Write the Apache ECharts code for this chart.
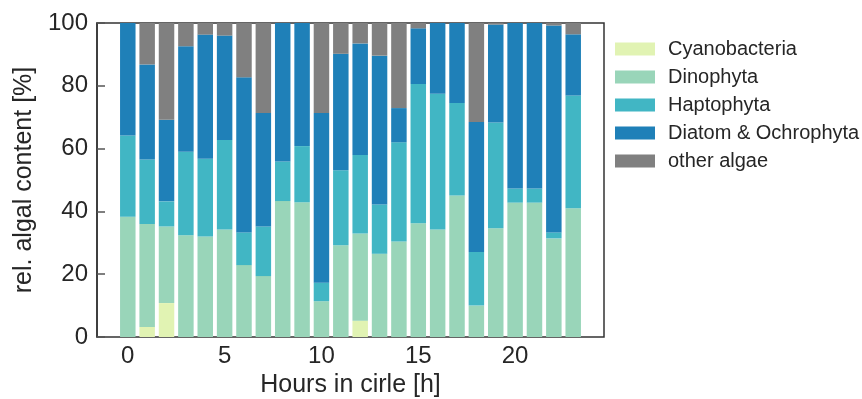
<!DOCTYPE html>
<html>
<head>
<meta charset="utf-8">
<script src="https://cdn.jsdelivr.net/npm/echarts@6/dist/echarts.min.js"></script>
<style>
  html, body { margin: 0; padding: 0; background: #fff; }
  #chart { width: 862px; height: 399px; }
</style>
</head>
<body>
<div id="chart"></div>
<script>
// hours 0..23
const hours = ['0','1','2','3','4','5','6','7','8','9','10','11','12','13','14','15','16','17','18','19','20','21','22','23']
const seriesNames = ['Cyanobacteria', 'Dinophyta', 'Haptophyta', 'Diatom & Ochrophyta', 'other algae']
const cyano  = [0, 3.2, 10.8, 0, 0, 0, 0, 0, 0, 0, 0, 0, 5.2, 0, 0, 0, 0, 0, 0, 0, 0, 0, 0, 0]
const dino   = [38.3, 32.8, 24.4, 32.4, 32.0, 34.2, 22.9, 19.4, 43.3, 42.9, 11.4, 29.2, 27.8, 26.5, 30.4, 36.2, 34.2, 45.1, 10.0, 34.6, 42.8, 42.8, 31.4, 41.0]
const hapto  = [25.9, 20.5, 8.0, 26.6, 24.8, 28.5, 10.4, 15.8, 12.6, 17.9, 5.9, 23.9, 25.0, 15.7, 31.6, 44.4, 43.3, 29.4, 17.1, 33.7, 4.5, 4.5, 1.9, 35.9]
const diatom = [35.8, 30.3, 26.0, 33.6, 39.5, 33.3, 49.4, 36.1, 44.1, 39.2, 54.0, 37.1, 35.5, 47.4, 10.9, 17.7, 22.5, 25.5, 41.4, 31.2, 52.7, 52.7, 65.9, 19.5]
const other  = [0, 13.2, 30.8, 7.4, 3.7, 4.0, 17.3, 28.7, 0, 0, 28.7, 9.8, 6.5, 10.4, 27.1, 1.7, 0, 0, 31.5, 0.5, 0, 0, 0.8, 3.6]
const xTicks = [0, 5, 10, 15, 20]
const colors = ['#e1f3b3', '#99d5b9', '#41b6c4', '#1f80b8', '#808080']

const chart = echarts.init(document.getElementById('chart'))
const values = [cyano, dino, hapto, diatom, other]
const textColor = '#262626'

// frame (matplotlib-like x limits with 5% margin)
const W = 862
const frameLeft = 97, frameRight = 604
const xMin = -1.59, xMax = 24.59
const unit = (frameRight - frameLeft) / (xMax - xMin)
// bars grid: category bands aligned with the frame's value axis
const barsLeft = frameLeft + (-0.5 - xMin) * unit
const barsRight = frameLeft + (hours.length - 0.5 - xMin) * unit

const option = {
  animation: false,
  color: colors,
  textStyle: { fontFamily: 'Liberation Sans, Arial, sans-serif' },
  grid: [
    {
      left: frameLeft,
      right: W - frameRight,
      top: 23,
      bottom: 62,
      outerBoundsMode: 'none',
      show: true,
      borderColor: '#333',
      borderWidth: 1.5
    },
    {
      left: barsLeft,
      right: W - barsRight,
      top: 23,
      bottom: 62,
      outerBoundsMode: 'none'
    }
  ],
  legend: {
    orient: 'vertical',
    left: 610,
    top: 34,
    icon: 'rect',
    itemWidth: 40,
    itemHeight: 13,
    itemGap: 8,
    data: seriesNames,
    textStyle: {
      fontSize: 20,
      color: textColor,
      padding: [0, 0, 0, 8]
    }
  },
  xAxis: [
    {
      gridIndex: 0,
      type: 'value',
      min: xMin,
      max: xMax,
      name: 'Hours in cirle [h]',
      nameLocation: 'middle',
      nameGap: 32,
      nameTextStyle: { fontSize: 25, color: textColor },
      splitLine: { show: false },
      axisLine: { show: false, onZero: false },
      axisTick: { show: false },
      axisLabel: {
        customValues: xTicks,
        fontSize: 24,
        color: textColor,
        margin: 7
      }
    },
    {
      gridIndex: 1,
      type: 'category',
      data: hours,
      show: false
    }
  ],
  yAxis: [
    {
      gridIndex: 0,
      type: 'value',
      min: 0,
      max: 100,
      interval: 20,
      name: 'rel. algal content [%]',
      nameLocation: 'middle',
      nameRotate: 90,
      nameGap: 53,
      nameTextStyle: { fontSize: 25, color: textColor },
      splitLine: { show: false },
      axisLine: { show: true, onZero: false, lineStyle: { color: '#333', width: 1.5 } },
      axisTick: {
        show: true,
        inside: true,
        length: 8,
        lineStyle: { color: '#555', width: 1.5 }
      },
      axisLabel: {
        fontSize: 24,
        color: textColor,
        margin: 9
      }
    },
    {
      gridIndex: 1,
      type: 'value',
      min: 0,
      max: 100,
      show: false
    }
  ],
  series: seriesNames.map((name, i) => ({
    name: name,
    type: 'bar',
    stack: 'total',
    xAxisIndex: 1,
    yAxisIndex: 1,
    barWidth: '80%',
    data: values[i]
  }))
}
chart.setOption(option)
</script>
</body>
</html>
